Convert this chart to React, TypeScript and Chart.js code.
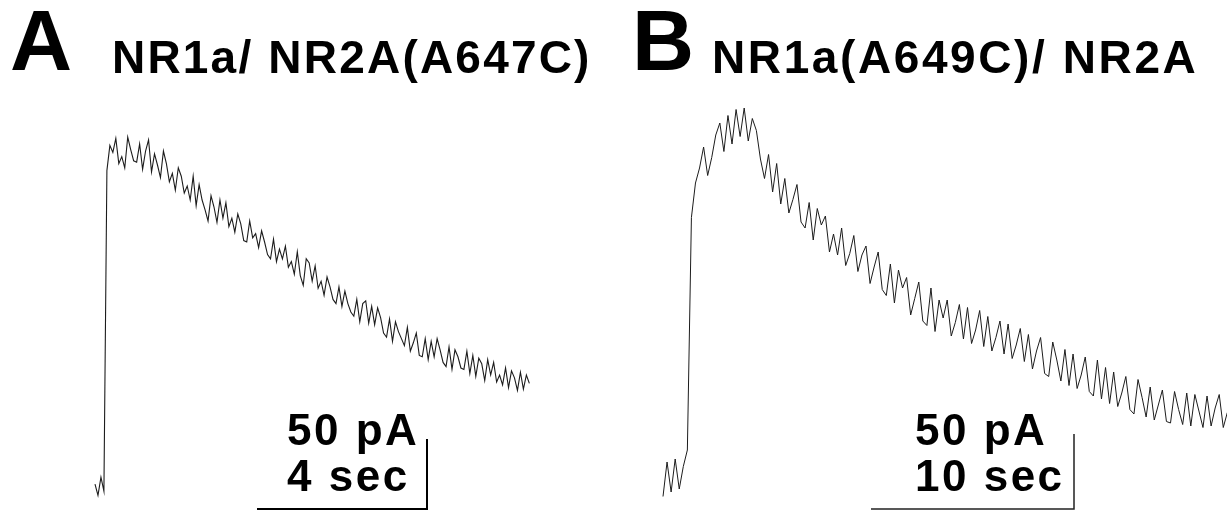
import React, { useEffect, useRef } from "react";
import { Chart, registerables } from "chart.js";

Chart.register(...registerables);

// ---- data (current in pA, sampled at a fixed interval in seconds) ----
const traceA_dt = 0.07;
const traceA = [
  2, -6, 7, -3,
  226, 244, 239, 249, 231, 236, 228, 250, 241, 233,
  232, 245, 227, 240, 248, 225, 238, 230, 221, 240,
  231, 218, 224, 212, 228, 222, 210, 215, 205, 222,
  201, 216, 205, 198, 190, 208, 200, 189, 205, 192,
  203, 186, 192, 182, 195, 188, 176, 175, 190, 178,
  181, 171, 183, 175, 166, 163, 177, 161, 170, 163,
  172, 157, 161, 152, 168, 151, 144, 163, 160, 147,
  158, 142, 147, 137, 150, 143, 134, 131, 143, 129,
  140, 131, 125, 122, 134, 118, 131, 133, 117, 129,
  116, 128, 121, 110, 107, 120, 104, 118, 111, 106,
  101, 114, 97, 103, 110, 94, 93, 106, 91, 104,
  93, 106, 98, 89, 86, 100, 84, 98, 93, 85,
  84, 97, 81, 94, 79, 92, 88, 76, 91, 80,
  89, 75, 80, 73, 85, 71, 83, 78, 69, 82,
  70, 80, 74,
];

const traceB_dt = 0.2;
const traceB = [
  -11, 12, -8, 14, -6, 9, 20,
  175, 198, 208, 222, 203, 215, 230, 238, 219, 243, 224, 247, 229,
  248, 226, 241, 233, 214, 201, 217, 192, 211, 184,
  201, 178, 187, 197, 172, 168, 185, 160, 181, 170,
  176, 152, 164, 150, 168, 143, 151, 163, 139, 150,
  156, 131, 142, 152, 127, 123, 144, 118, 140, 128,
  135, 110, 121, 132, 106, 103, 128, 99, 120, 108,
  120, 96, 105, 117, 94, 115, 91, 100, 113, 89,
  109, 86, 95, 106, 84, 104, 81, 90, 101, 79,
  97, 74, 86, 95, 71, 69, 92, 80, 66, 87,
  63, 84, 61, 70, 82, 59, 56, 80, 54, 75,
  51, 72, 49, 58, 69, 47, 44, 67, 55, 42,
  62, 40, 50, 60, 39, 38, 59, 47, 37, 58,
  36, 57, 46, 35, 56, 36, 48, 57, 35, 45,
];

const panelLetters = ["A", "B"];
const panelTitles = ["NR1a/ NR2A(A647C)", "NR1a(A649C)/ NR2A"];
const scaleCurrent = [50, 50]; // pA
const scaleTime = [4, 10]; // sec
const scaleLabels = [
  ["50 pA", "4 sec"],
  ["50 pA", "10 sec"],
];

// ---- layout ----
const W = 1227;
const H = 513;
const FONT = '"Liberation Sans", Arial, sans-serif';

const textPlugin = {
  id: "figureText",
  afterDraw(chart: any) {
    const ctx = chart.ctx;
    ctx.save();
    ctx.fillStyle = "#000";
    ctx.textBaseline = "alphabetic";
    ctx.textAlign = "left";
    const draw = (t: string, x: number, y: number, size: number, ls: number) => {
      ctx.font = `bold ${size}px ${FONT}`;
      try { (ctx as any).letterSpacing = `${ls}px`; } catch (e) {}
      ctx.fillText(t, x, y);
    };
    draw(panelLetters[0], 10, 70, 86, 0);
    draw(panelTitles[0], 112, 73, 46, 2.2);
    draw(panelLetters[1], 632, 70, 86, 0);
    draw(panelTitles[1], 712, 73, 46, 2.6);
    draw(scaleLabels[0][0], 287, 445, 44, 2.5);
    draw(scaleLabels[0][1], 287, 491, 44, 2.5);
    draw(scaleLabels[1][0], 915, 445, 44, 2.5);
    draw(scaleLabels[1][1], 915, 491, 44, 2.5);
    ctx.restore();
  },
};

export default function App() {
  const ref = useRef<HTMLCanvasElement | null>(null);

  useEffect(() => {
    if (!ref.current) return;

    // panel A mapping: 42.5 px per s, 1.4 px per pA, trace starts at px 95, baseline px 487
    const aPxS = 42.5, aPxPA = 1.4;
    const aXmin = -95 / aPxS, aXmax = aXmin + W / aPxS;
    const aYmax = 487 / aPxPA, aYmin = aYmax - H / aPxPA;
    // panel B mapping: 20.3 px per s, 1.5 px per pA, trace starts at px 663, baseline px 480
    const bPxS = 20.3, bPxPA = 1.5;
    const bXmin = -663 / bPxS, bXmax = bXmin + W / bPxS;
    const bYmax = 480 / bPxPA, bYmin = bYmax - H / bPxPA;

    // scale-bar anchors (left end of time bar)
    const aBarX = (257 - 95) / aPxS, aBarY = (487 - 509) / aPxPA;
    const bBarX = (871 - 663) / bPxS, bBarY = (480 - 509) / bPxPA;

    const lineDs = (data: any[], xID: string, yID: string, color: string, width: number) => ({
      type: "line" as const,
      data,
      xAxisID: xID,
      yAxisID: yID,
      borderColor: color,
      borderWidth: width,
      pointRadius: 0,
      tension: 0,
      fill: false,
      clip: false as any,
    });

    const chart = new Chart(ref.current, {
      type: "line",
      data: {
        datasets: [
          lineDs(traceA.map((v, i) => ({ x: i * traceA_dt, y: v })), "xA", "yA", "#1c1c1c", 1.1),
          lineDs(traceB.map((v, i) => ({ x: i * traceB_dt, y: v })), "xB", "yB", "#1c1c1c", 1),
          lineDs(
            [
              { x: aBarX, y: aBarY },
              { x: aBarX + scaleTime[0], y: aBarY },
              { x: aBarX + scaleTime[0], y: aBarY + scaleCurrent[0] },
            ],
            "xA", "yA", "#000", 2
          ),
          lineDs(
            [
              { x: bBarX, y: bBarY },
              { x: bBarX + scaleTime[1], y: bBarY },
              { x: bBarX + scaleTime[1], y: bBarY + scaleCurrent[1] },
            ],
            "xB", "yB", "#222", 1.5
          ),
        ] as any,
      },
      options: {
        animation: false,
        responsive: false,
        devicePixelRatio: 1,
        layout: { padding: 0 },
        plugins: { legend: { display: false }, tooltip: { enabled: false } },
        scales: {
          xA: { type: "linear", display: false, min: aXmin, max: aXmax },
          yA: { type: "linear", display: false, min: aYmin, max: aYmax },
          xB: { type: "linear", display: false, min: bXmin, max: bXmax },
          yB: { type: "linear", display: false, min: bYmin, max: bYmax },
        },
      } as any,
      plugins: [textPlugin],
    });
    return () => chart.destroy();
  }, []);

  return (
    <div style={{ position: "absolute", left: 0, top: 0, width: W, height: H, background: "#fff" }}>
      <canvas ref={ref} width={W} height={H} style={{ display: "block", width: W, height: H }} />
    </div>
  );
}
